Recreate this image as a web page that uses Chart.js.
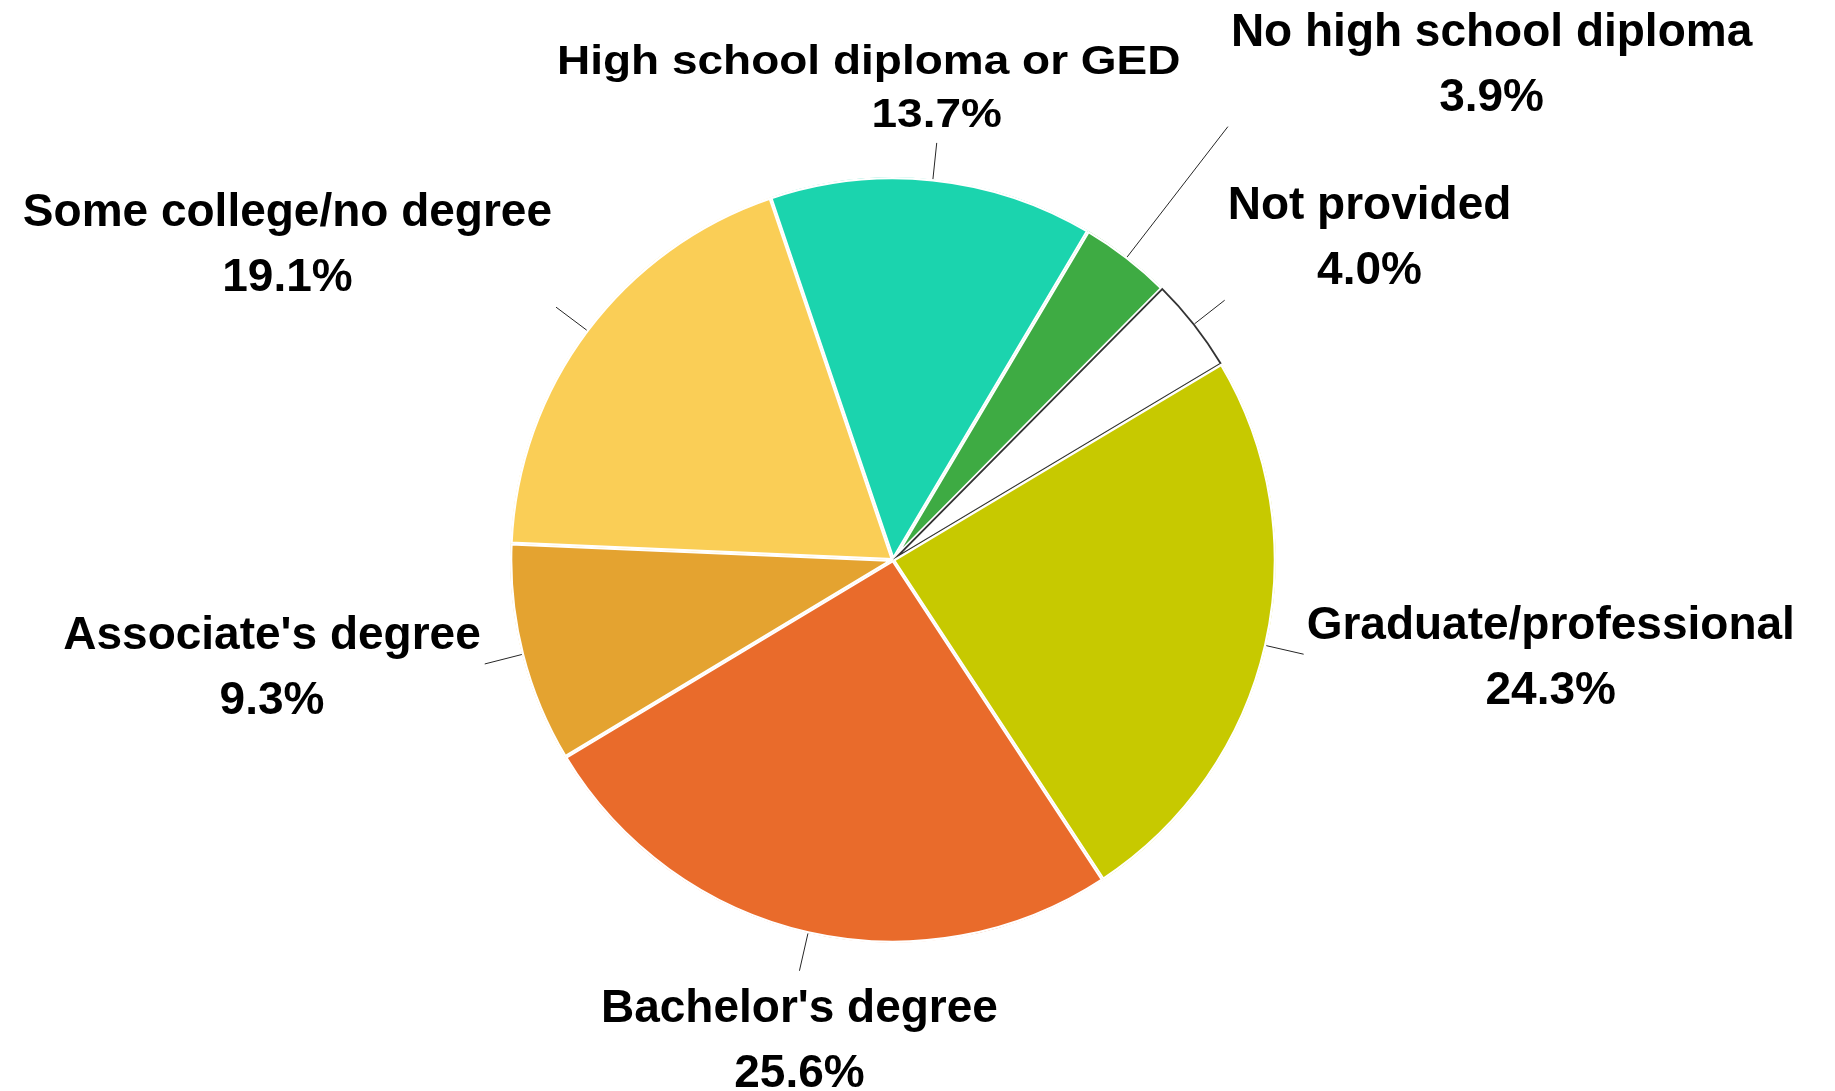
<!DOCTYPE html>
<html>
<head>
<meta charset="utf-8">
<title>Education level</title>
<script src="https://cdn.jsdelivr.net/npm/chart.js@4.4.1/dist/chart.umd.min.js"></script>
<style>
  html, body { margin:0; padding:0; background:#fff; }
  #pie { display:block; }
</style>
</head>
<body>
<canvas id="pie" width="1835" height="1091"></canvas>
<script>
/* DATA */
const categories = [
  "High school diploma or GED",
  "No high school diploma",
  "Not provided",
  "Graduate/professional",
  "Bachelor's degree",
  "Associate's degree",
  "Some college/no degree"
];
const shares = [13.7, 3.9, 4.0, 24.3, 25.6, 9.3, 19.1];
const sliceColors = ["#1bd4ae", "#3eab43", "#ffffff", "#c7c900", "#e96b2b", "#e4a330", "#face56"];
const edgeColors  = ["#ffffff", "#ffffff", "#333333", "#ffffff", "#ffffff", "#ffffff", "#ffffff"];
const edgeWidths  = [2, 2, 1.5, 2, 2, 2, 2];

/* LABEL LAYOUT */
const FONT = "bold 46px 'Liberation Sans', Arial, sans-serif";
const CAP = 33, LINE = 65;
const leaderReach = [1.095, 1.43, 1.1, 1.1, 1.1, 1.1, 1.1];
// the GED label is set tighter, with its first line pulled left
const labelTweak = { 0: { shift:-68, squash:0.9, gap:53 } };

const calloutLabels = {
  id:"calloutLabels",
  afterDraw(chart){
    const ctx = chart.ctx;
    const arcs = chart.getDatasetMeta(0).data;

    arcs.forEach((arc, i)=>{
      const p = arc.getProps(["x","y","startAngle","endAngle","outerRadius"], true);
      const a = (p.startAngle + p.endAngle) / 2;
      const cos = Math.cos(a), sin = Math.sin(a);
      const r0 = p.outerRadius, r1 = p.outerRadius * leaderReach[i];
      const ex = p.x + cos*r1, ey = p.y + sin*r1;

      // leader line
      ctx.save();
      ctx.strokeStyle = "#262626";
      ctx.lineWidth = 1;
      ctx.beginPath();
      ctx.moveTo(p.x + cos*r0, p.y + sin*r0);
      ctx.lineTo(ex, ey);
      ctx.stroke();

      // two-line label: name + percent
      const lines = [categories[i], shares[i].toFixed(1) + "%"];
      ctx.font = FONT;
      ctx.fillStyle = "#000";
      ctx.textAlign = "center";
      ctx.textBaseline = "alphabetic";
      const w = Math.max(...lines.map(t=>ctx.measureText(t).width));

      const sx = Math.abs(cos) > 0.3 ? Math.sign(cos) : 0;
      const sy = Math.abs(sin) > 0.3 ? Math.sign(sin) : 0;

      let cx = ex;
      if(sx > 0) cx = ex + 3 + w/2;
      if(sx < 0) cx = ex - 4 - w/2;

      let base2;
      if(sy < 0) base2 = ey - 16;
      else if(sy > 0) base2 = ey + 18 + CAP + LINE;
      else base2 = ey + (CAP + LINE)/2 + 1;

      const tw = labelTweak[i] || { shift:0, squash:1, gap:LINE };
      ctx.translate(cx, base2);
      ctx.save();
      ctx.scale(1, tw.squash);
      ctx.fillText(lines[1], 0, 0);
      ctx.restore();
      ctx.translate(tw.shift, -tw.gap);
      ctx.scale(1, tw.squash);
      ctx.fillText(lines[0], 0, 0);
      ctx.restore();
    });
  }
};

/* CHART */
new Chart(document.getElementById("pie"), {
  type:"pie",
  data:{
    labels:categories,
    datasets:[{
      data:shares,
      backgroundColor:sliceColors,
      borderColor:edgeColors,
      borderWidth:edgeWidths,
      borderAlign:"inner"
    }]
  },
  options:{
    responsive:false,
    animation:false,
    rotation:-18.7,
    layout:{ padding:{ top:177, bottom:148, left:510, right:559 } },
    events:[],
    plugins:{
      legend:{ display:false },
      tooltip:{ enabled:false }
    }
  },
  plugins:[calloutLabels]
});
</script>
</body>
</html>
